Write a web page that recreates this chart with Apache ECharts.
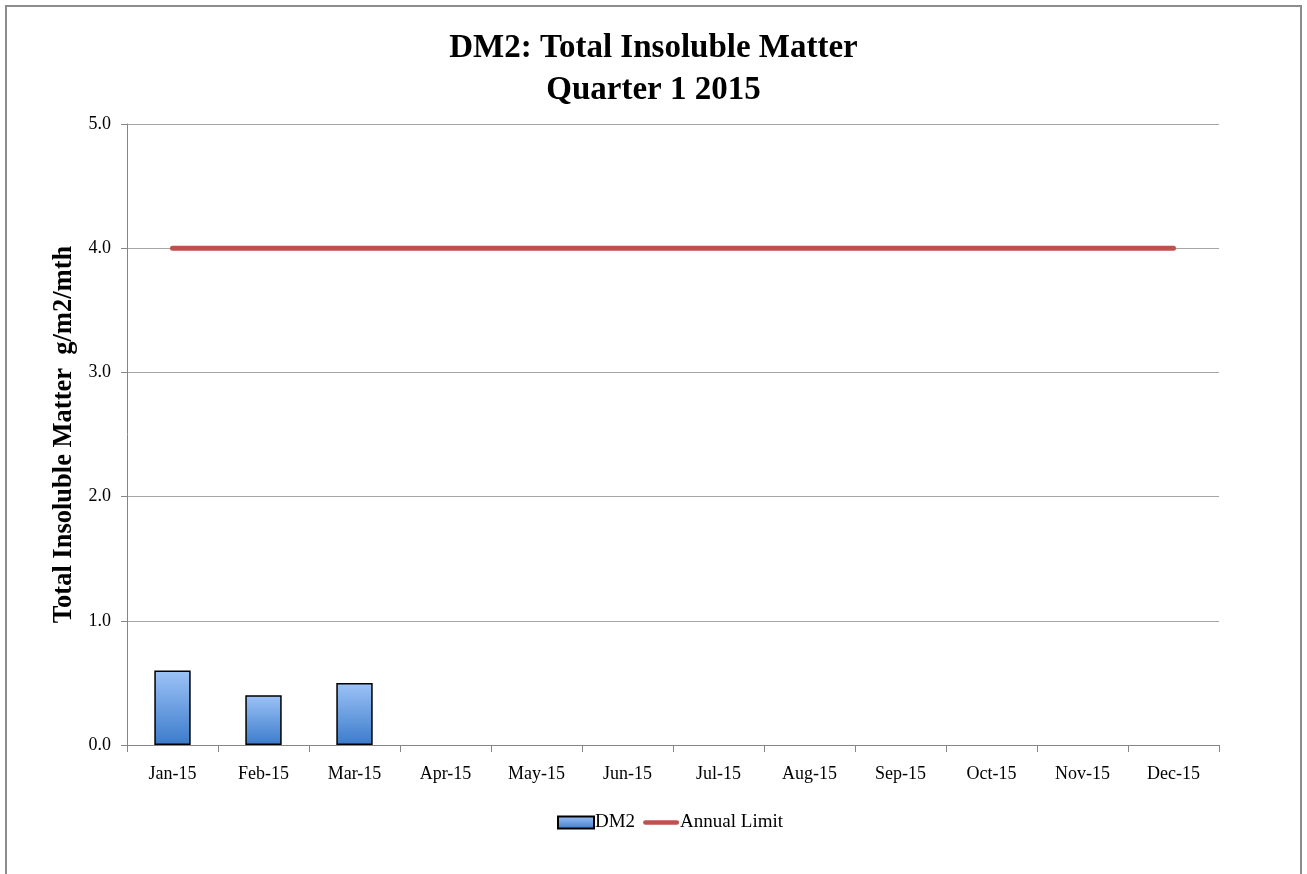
<!DOCTYPE html>
<html>
<head>
<meta charset="utf-8">
<script src="https://cdn.jsdelivr.net/npm/echarts@6/dist/echarts.min.js"></script>
<style>
html,body{margin:0;padding:0;background:#fff;}
#chart{width:1307px;height:874px;}
</style>
</head>
<body>
<div id="chart"></div>
<script>
const categories = ['Jan-15','Feb-15','Mar-15','Apr-15','May-15','Jun-15','Jul-15','Aug-15','Sep-15','Oct-15','Nov-15','Dec-15'];
const dm2Values = [0.6, 0.4, 0.5, null, null, null, null, null, null, null, null, null];
const annualLimit = [4, 4, 4, 4, 4, 4, 4, 4, 4, 4, 4, 4];
const yTicks = {min: 0, max: 5, interval: 1};

const FONT = '"Liberation Serif", "DejaVu Serif", serif';
const chart = echarts.init(document.getElementById('chart'));
chart.setOption({
  animation: false,
  backgroundColor: '#fff',
  title: {
    text: 'DM2: Total Insoluble Matter\nQuarter 1 2015',
    left: 'center',
    top: 22,
    textStyle: {fontFamily: FONT, fontWeight: 'bold', fontSize: 33, color: '#000', lineHeight: 42}
  },
  graphic: [{
    type: 'polyline',
    shape: {points: [[6, 874], [6, 6], [1301, 6], [1301, 874]]},
    style: {stroke: '#8c8c8c', lineWidth: 2, fill: null}
  }],
  legend: {
    bottom: 37,
    left: 552,
    itemGap: 8,
    itemWidth: 36,
    itemHeight: 12,
    textStyle: {fontFamily: FONT, fontSize: 19, color: '#000', padding: [0, 0, 0, -4]},
    data: [
      {name: 'DM2', icon: 'rect'},
      {name: 'Annual Limit', icon: 'path://M2.5,0 L37.5,0 A2.5,2.5 0 0 1 37.5,5 L2.5,5 A2.5,2.5 0 0 1 2.5,0 Z', itemStyle: {color: '#c0504d', borderWidth: 0}}
    ]
  },
  grid: {left: 127, right: 88, top: 124, bottom: 129},
  xAxis: {
    type: 'category',
    data: categories,
    axisLine: {lineStyle: {color: '#868686', width: 1}},
    axisTick: {show: true, length: 7, lineStyle: {color: '#868686'}},
    axisLabel: {fontFamily: FONT, fontSize: 18, color: '#000', margin: 20}
  },
  yAxis: {
    type: 'value',
    min: yTicks.min, max: yTicks.max, interval: yTicks.interval,
    name: 'Total Insoluble Matter  g/m2/mth',
    nameLocation: 'middle',
    nameGap: 47,
    nameTextStyle: {fontFamily: FONT, fontWeight: 'bold', fontSize: 26.5, color: '#000'},
    axisLine: {show: true, lineStyle: {color: '#868686'}},
    axisTick: {show: true, length: 6, inside: false, lineStyle: {color: '#868686'}},
    axisLabel: {fontFamily: FONT, fontSize: 18, color: '#000', margin: 16, formatter: v => v.toFixed(1)},
    splitLine: {lineStyle: {color: '#a6a6a6', width: 1}}
  },
  series: [
    {
      name: 'DM2',
      type: 'bar',
      data: dm2Values,
      barWidth: '40%',
      itemStyle: {
        color: new echarts.graphic.LinearGradient(0, 0, 0, 1, [
          {offset: 0, color: '#9dc3f7'},
          {offset: 1, color: '#3b7bcb'}
        ]),
        borderColor: '#000',
        borderWidth: 1.5
      }
    },
    {
      name: 'Annual Limit',
      type: 'line',
      data: annualLimit,
      symbol: 'none',
      lineStyle: {color: '#c0504d', width: 5, cap: 'round'},
      itemStyle: {color: '#c0504d'}
    }
  ]
});
</script>
</body>
</html>
